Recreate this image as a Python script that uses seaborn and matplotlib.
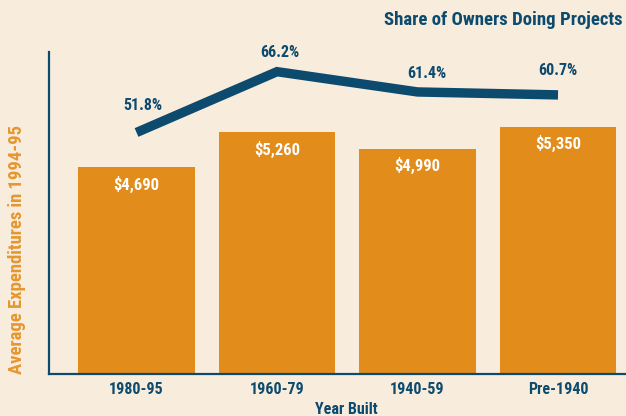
import seaborn as sns
import pandas as pd
import matplotlib.pyplot as plt

# data
year_built = ['1980-95', '1960-79', '1940-59', 'Pre-1940']
avg_expenditure = [4690, 5260, 4990, 5350]
share_doing_projects = [51.8, 66.2, 61.4, 60.7]

BG = '#F8ECDD'
ORANGE = '#E28C1C'
BLUE = '#0C4A6E'
LABEL_ORANGE = '#E5962E'
FONT = ['Roboto Condensed', 'DejaVu Sans']


def run():
    df = pd.DataFrame({'year': year_built, 'expenditure': avg_expenditure,
                       'share': share_doing_projects})

    sns.set_style('white')
    plt.rcParams['font.family'] = FONT
    plt.rcParams['font.weight'] = 'bold'

    fig = plt.figure(figsize=(6.26, 4.16), dpi=100, facecolor=BG)
    # axes box in pixels: left 49, right 626, top 52, bottom 374
    ax = fig.add_axes([49 / 626, (416 - 374) / 416, 577 / 626, 322 / 416])
    ax.set_facecolor(BG)

    sns.barplot(data=df, x='year', y='expenditure', color=ORANGE, saturation=1,
                width=0.83, linewidth=0, ax=ax)
    ax.set_ylim(1325, 6567)
    ax.set_xlim(-0.623, 3.484)

    # dollar labels inside bars
    for patch, val in zip(ax.patches, df['expenditure']):
        ax.annotate(f'${val:,}', (patch.get_x() + patch.get_width() / 2, patch.get_height()),
                    xytext=(0, -17), textcoords='offset pixels', ha='center', va='center',
                    color='white', fontsize=12, fontweight='bold')

    # share of owners line on its own scale
    ax2 = ax.twinx()
    sns.lineplot(data=df, x='year', y='share', color=BLUE, linewidth=6.8, ax=ax2,
                 solid_capstyle='butt', solid_joinstyle='miter', sort=False)
    ax2.set_ylim(-5.39, 70.86)
    ax2.set_xlim(-0.623, 3.484)
    ax2.set_axis_off()

    offsets = [(6, 27), (3, 19), (9, 18), (0, 24)]
    for i, (val, off) in enumerate(zip(df['share'], offsets)):
        ax2.annotate(f'{val}%', (i, val), xytext=off, textcoords='offset pixels',
                     ha='center', va='center', color=BLUE, fontsize=11.5, fontweight='bold')

    for side in ['top', 'right']:
        ax.spines[side].set_visible(False)
    for side in ['left', 'bottom']:
        ax.spines[side].set_color(BLUE)
        ax.spines[side].set_linewidth(1.6)
    ax.set_yticks([])
    ax.tick_params(axis='x', length=0, pad=6, labelsize=11.5, labelcolor=BLUE)
    for lbl in ax.get_xticklabels():
        lbl.set_fontweight('bold')
    ax.set_xlabel('')
    ax.set_ylabel('')

    fig.text(346 / 626, 1 - 409 / 416, 'Year Built', ha='center', va='center',
             color=BLUE, fontsize=11.5, fontweight='bold')
    fig.text(17 / 626, 1 - 250 / 416, 'Average Expenditures in 1994-95', rotation=90,
             ha='center', va='center', color=LABEL_ORANGE, fontsize=13.4, fontweight='bold')
    fig.text(622 / 626, 1 - 20 / 416, 'Share of Owners Doing Projects', ha='right',
             va='center', color=BLUE, fontsize=13.5, fontweight='bold')

    fig.savefig('out.png', dpi=100, facecolor=BG)


if __name__ == "__main__":
    run()
